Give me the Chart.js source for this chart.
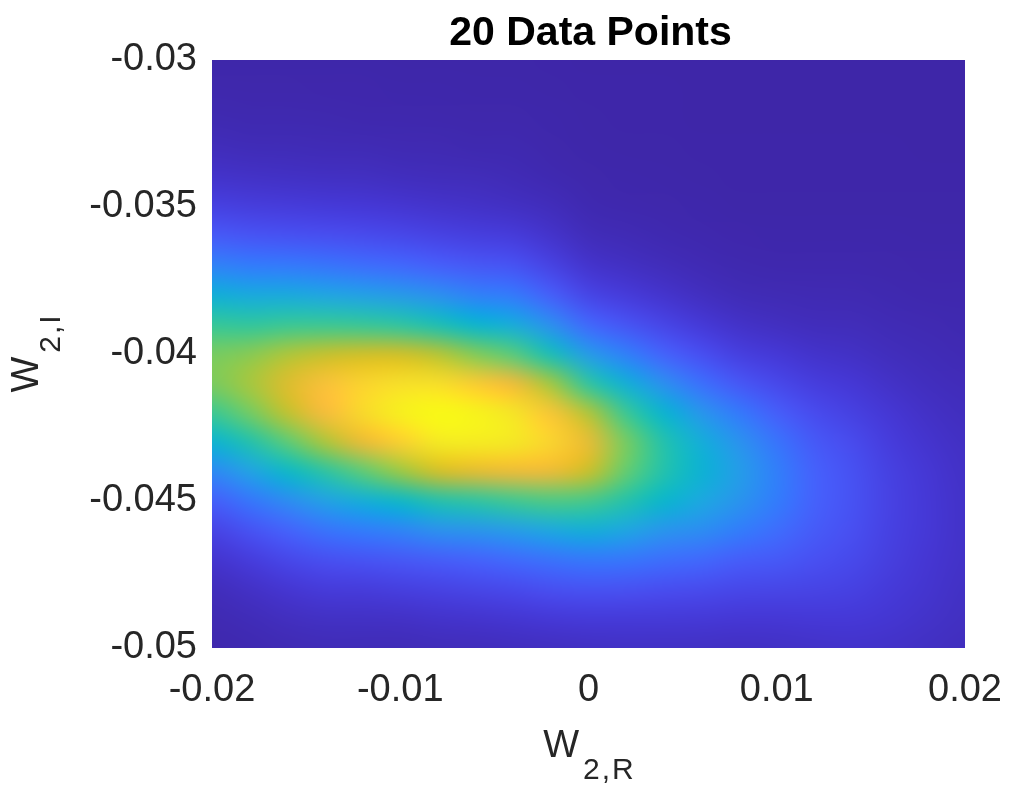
<!DOCTYPE html>
<html>
<head>
<meta charset="utf-8">
<script src="https://cdn.jsdelivr.net/npm/chart.js@4.4.1/dist/chart.umd.min.js"></script>
<style>
  html, body { margin: 0; padding: 0; background: #fff; }
</style>
</head>
<body>
<canvas id="myChart" width="1011" height="790"></canvas>
<script>
// cell centres of the density image (W2,R across, W2,I down)
const xCenters = [-0.02, -0.018, -0.016, -0.014, -0.012, -0.01, -0.008, -0.006, -0.004, -0.002, 0,
  0.002, 0.004, 0.006, 0.008, 0.01, 0.012, 0.014, 0.016, 0.018, 0.02];
const yCenters = [-0.03, -0.031, -0.032, -0.033, -0.034, -0.035, -0.036, -0.037, -0.038, -0.039, -0.04,
  -0.041, -0.042, -0.043, -0.044, -0.045, -0.046, -0.047, -0.048, -0.049, -0.05];

// normalised density, one row per yCenters entry (top to bottom)
const density = [
  [.003, .003, .003, .003, .003, .002, .002, .002, .002, .001, 0, 0, 0, 0, 0, 0, 0, 0, 0, 0, 0],
  [.007, .006, .006, .005, .005, .004, .004, .003, .003, .002, .001, .001, .001, 0, 0, 0, 0, 0, 0, 0, 0],
  [.013, .011, .011, .010, .009, .009, .007, .006, .006, .004, .002, .001, .001, 0, 0, 0, 0, 0, 0, 0, 0],
  [.026, .022, .021, .019, .018, .015, .014, .011, .011, .006, .003, .002, .002, .001, .001, .001, .001, .001, .001, 0, 0],
  [.049, .043, .040, .038, .035, .030, .027, .024, .019, .012, .006, .004, .003, .002, .001, .001, .001, .001, .001, .001, .001],
  [.092, .081, .077, .071, .066, .059, .050, .045, .038, .026, .012, .008, .006, .004, .002, .002, .002, .002, .002, .002, .002],
  [.165, .147, .140, .131, .121, .111, .097, .085, .077, .050, .025, .018, .012, .008, .005, .004, .004, .004, .004, .003, .003],
  [.272, .251, .245, .233, .215, .200, .177, .155, .142, .096, .051, .037, .025, .016, .010, .009, .008, .008, .006, .005, .005],
  [.416, .395, .394, .377, .361, .342, .310, .266, .245, .175, .103, .075, .052, .033, .021, .017, .015, .014, .011, .009, .008],
  [.558, .548, .564, .565, .558, .539, .500, .436, .401, .306, .198, .144, .101, .067, .044, .034, .027, .024, .018, .014, .011],
  [.646, .665, .708, .737, .751, .751, .720, .657, .605, .492, .345, .258, .185, .128, .086, .064, .048, .040, .028, .021, .016],
  [.650, .699, .770, .832, .885, .914, .910, .864, .803, .694, .541, .414, .306, .217, .153, .111, .080, .062, .043, .030, .023],
  [.567, .640, .732, .818, .900, .963, .998, .976, .927, .846, .713, .565, .435, .327, .242, .172, .120, .091, .061, .042, .030],
  [.428, .516, .611, .706, .794, .876, .942, .949, .936, .887, .789, .646, .518, .409, .320, .229, .159, .118, .078, .053, .037],
  [.285, .366, .454, .535, .612, .684, .755, .782, .798, .796, .743, .624, .519, .427, .350, .259, .182, .136, .091, .061, .042],
  [.173, .232, .298, .363, .409, .454, .517, .539, .571, .590, .580, .523, .445, .385, .322, .250, .182, .139, .095, .065, .045],
  [.097, .138, .185, .227, .249, .275, .314, .326, .349, .385, .410, .379, .325, .300, .254, .212, .165, .131, .092, .064, .045],
  [.053, .078, .108, .131, .142, .155, .170, .185, .205, .225, .240, .235, .215, .200, .171, .158, .134, .114, .084, .060, .043],
  [.027, .042, .059, .073, .076, .085, .095, .105, .115, .130, .140, .135, .125, .118, .108, .104, .100, .092, .072, .054, .039],
  [.014, .022, .032, .039, .040, .042, .048, .053, .058, .066, .072, .072, .070, .067, .062, .063, .066, .066, .058, .046, .035],
  [.007, .012, .017, .021, .021, .021, .024, .027, .030, .034, .038, .040, .040, .039, .037, .040, .045, .048, .045, .038, .030]
];

const xTicks = [-0.02, -0.01, 0, 0.01, 0.02];
const yTicks = [-0.05, -0.045, -0.04, -0.035, -0.03];

const FONT = "'Liberation Sans', Arial, Helvetica, sans-serif";
const TEXT = '#262626';

// parula colour stops
const parulaStops = [
  [62, 38, 168], [69, 55, 213], [72, 77, 240], [69, 99, 253], [50, 124, 252],
  [43, 145, 239], [32, 165, 227], [8, 181, 208], [25, 191, 182], [55, 200, 151],
  [100, 205, 111], [157, 201, 67], [209, 191, 39], [248, 186, 61], [252, 207, 48],
  [245, 233, 36], [249, 251, 21]
];

function parula(v) {
  const t = Math.max(0, Math.min(1, v)) * (parulaStops.length - 1);
  const i = Math.min(Math.floor(t), parulaStops.length - 2);
  const f = t - i;
  const a = parulaStops[i], b = parulaStops[i + 1];
  return [0, 1, 2].map(k => Math.round(a[k] + (b[k] - a[k]) * f));
}

const heatmap = {
  id: 'heatmap',
  beforeDatasetsDraw(chart) {
    const { ctx, chartArea, scales: { x, y } } = chart;
    const nx = xCenters.length, ny = yCenters.length;
    const off = document.createElement('canvas');
    off.width = nx;
    off.height = ny;
    const octx = off.getContext('2d');
    const img = octx.createImageData(nx, ny);
    density.forEach((row, j) => {
      row.forEach((v, i) => {
        const c = parula(v);
        const k = (j * nx + i) * 4;
        img.data[k] = c[0];
        img.data[k + 1] = c[1];
        img.data[k + 2] = c[2];
        img.data[k + 3] = 255;
      });
    });
    octx.putImageData(img, 0, 0);

    // each cell is centred on its grid value
    const hx = (xCenters[1] - xCenters[0]) / 2;
    const hy = (yCenters[0] - yCenters[1]) / 2;
    const left = x.getPixelForValue(xCenters[0] - hx);
    const right = x.getPixelForValue(xCenters[nx - 1] + hx);
    const top = y.getPixelForValue(yCenters[0] + hy);
    const bottom = y.getPixelForValue(yCenters[ny - 1] - hy);

    ctx.save();
    ctx.beginPath();
    ctx.rect(chartArea.left, chartArea.top, chartArea.width, chartArea.height);
    ctx.clip();
    ctx.imageSmoothingEnabled = true;
    ctx.imageSmoothingQuality = 'high';
    ctx.drawImage(off, left, top, right - left, bottom - top);
    ctx.restore();
  }
};

// "W" followed by a subscript, centred on cx
function subLabel(ctx, main, sub, cx, base) {
  const gap = 2;
  ctx.font = '38px ' + FONT;
  const w1 = ctx.measureText(main).width;
  ctx.font = '30px ' + FONT;
  const chars = sub.split('');
  const widths = chars.map(ch => ctx.measureText(ch).width);
  const w2 = widths.reduce((a, b) => a + b, 0) + gap * (chars.length - 1);
  let xp = cx - (w1 + 4 + w2) / 2;
  ctx.textAlign = 'left';
  ctx.textBaseline = 'alphabetic';
  ctx.font = '38px ' + FONT;
  ctx.fillText(main, xp, base);
  xp += w1 + 4;
  ctx.font = '30px ' + FONT;
  chars.forEach((ch, i) => {
    ctx.fillText(ch, xp, base + 22);
    xp += widths[i] + gap;
  });
}

const labels = {
  id: 'labels',
  afterDraw(chart) {
    const { ctx, chartArea } = chart;
    const midX = (chartArea.left + chartArea.right) / 2;
    const midY = (chartArea.top + chartArea.bottom) / 2;
    ctx.save();
    ctx.fillStyle = '#000';
    ctx.font = 'bold 41px ' + FONT;
    ctx.textAlign = 'center';
    ctx.textBaseline = 'alphabetic';
    ctx.fillText('20 Data Points', midX + 2, 45);

    ctx.fillStyle = TEXT;
    subLabel(ctx, 'W', '2,R', midX, 757);
    ctx.translate(38, midY);
    ctx.rotate(-Math.PI / 2);
    subLabel(ctx, 'W', '2,I', 0, 0);
    ctx.restore();
  }
};

const fmt = v => String(+Number(v).toFixed(4));

new Chart(document.getElementById('myChart').getContext('2d'), {
  type: 'scatter',
  data: {
    datasets: [{
      label: 'density',
      data: [],
      pointRadius: 0
    }]
  },
  options: {
    responsive: false,
    animation: false,
    devicePixelRatio: 1,
    layout: { padding: { left: 0, right: 46, top: 60, bottom: 0 } },
    plugins: {
      legend: { display: false },
      tooltip: { enabled: false },
      title: { display: false }
    },
    scales: {
      x: {
        type: 'linear',
        min: -0.02,
        max: 0.02,
        afterBuildTicks: s => { s.ticks = xTicks.map(v => ({ value: v })); },
        afterFit: s => { s.height = 142; s.paddingLeft = 0; s.paddingRight = 0; },
        grid: { display: false, drawTicks: false },
        border: { display: false },
        ticks: {
          autoSkip: false,
          maxRotation: 0,
          padding: 20,
          color: TEXT,
          font: { family: FONT, size: 38 },
          callback: fmt
        }
      },
      y: {
        type: 'linear',
        min: -0.05,
        max: -0.03,
        afterBuildTicks: s => { s.ticks = yTicks.map(v => ({ value: v })); },
        afterFit: s => { s.width = 212; s.paddingTop = 0; s.paddingBottom = 0; },
        grid: { display: false, drawTicks: false },
        border: { display: false },
        ticks: {
          autoSkip: false,
          padding: 15,
          color: TEXT,
          font: { family: FONT, size: 38 },
          callback: fmt
        }
      }
    }
  },
  plugins: [heatmap, labels]
});
</script>
</body>
</html>
